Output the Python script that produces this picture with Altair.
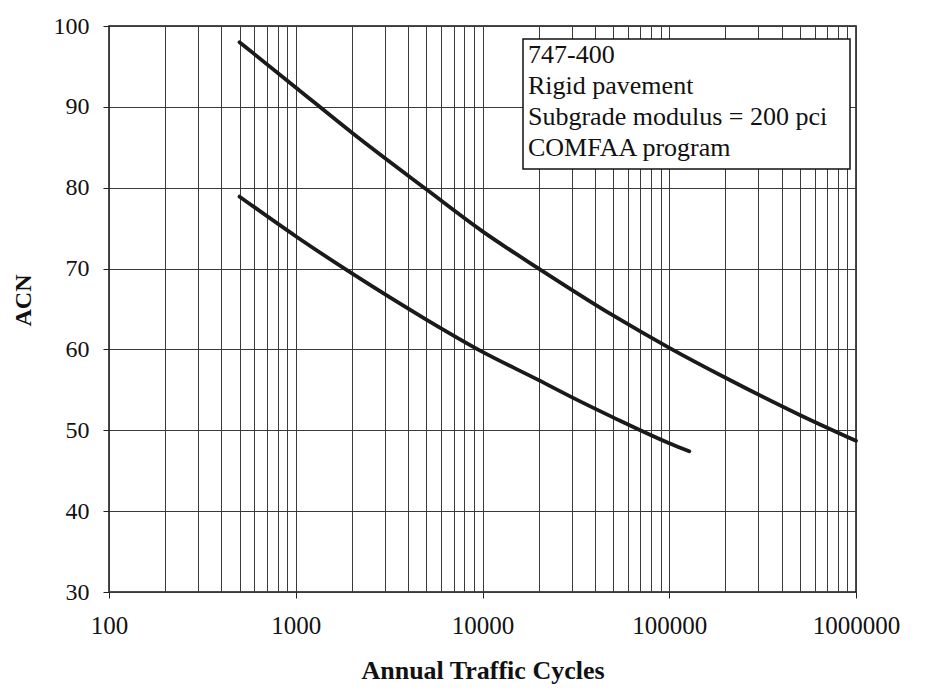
import altair as alt
import pandas as pd

# ---- data ----
upper_x = [500, 1000, 2000, 5000, 10000, 20000, 50000, 100000, 200000, 500000, 1000000]
upper_y = [98.0, 92.4, 86.8, 79.8, 74.6, 70.0, 64.2, 60.2, 56.5, 51.9, 48.7]

lower_x = [500, 1000, 2000, 5000, 10000, 20000, 30000, 50000, 100000, 128000]
lower_y = [78.9, 74.0, 69.4, 63.7, 59.7, 56.2, 54.1, 51.6, 48.4, 47.4]

x_decades = [100, 1000, 10000, 100000, 1000000]
x_grid = [m * d for d in [100, 1000, 10000, 100000] for m in range(1, 10)] + [1000000]
y_ticks = [30, 40, 50, 60, 70, 80, 90, 100]

box_lines = ["747-400", "Rigid pavement", "Subgrade modulus = 200 pci", "COMFAA program"]

df = pd.concat([
    pd.DataFrame({"cycles": upper_x, "acn": upper_y, "series": "upper"}),
    pd.DataFrame({"cycles": lower_x, "acn": lower_y, "series": "lower"}),
])

FONT = "Liberation Serif"
dec_list = "[" + ",".join(str(v) for v in x_decades) + "]"
is_decade = f"indexof({dec_list}, datum.value) >= 0"

x_enc = alt.X(
    "cycles:Q",
    scale=alt.Scale(type="log", domain=[100, 1000000], nice=False),
    axis=alt.Axis(
        values=x_grid,
        format="d",
        labelExpr=f"{is_decade} ? datum.label : ''",
        labelOverlap=False,
        labelFlush=False,
        labelFont=FONT,
        labelFontSize=25,
        labelColor="#111",
        labelPadding=15,
        tickSize=6,
        tickColor="#222",
        tickOpacity={"condition": {"test": is_decade, "value": 1}, "value": 0},
        grid=True,
        gridColor="#3a3a3a",
        gridWidth=1,
        gridOpacity=1,
        domain=False,
        title="Annual Traffic Cycles",
        titleFont=FONT,
        titleFontSize=26,
        titleFontWeight="bold",
        titleColor="#111",
        titleBaseline="alphabetic",
        titleY=86,
    ),
)

y_enc = alt.Y(
    "acn:Q",
    scale=alt.Scale(domain=[30, 100], nice=False, zero=False),
    axis=alt.Axis(
        values=y_ticks,
        labelFont=FONT,
        labelFontSize=24,
        labelColor="#111",
        labelPadding=14,
        labelFlush=False,
        tickSize=6,
        tickColor="#222",
        grid=True,
        gridColor="#3a3a3a",
        gridWidth=1,
        gridOpacity=1,
        domain=False,
        title="ACN",
        titleFont=FONT,
        titleFontSize=24,
        titleFontWeight="bold",
        titleColor="#111",
        titleAngle=270,
        titleAlign="center",
        titleBaseline="middle",
        titleX=-86,
        titleY=274,
    ),
)

lines = alt.Chart(df).mark_line(
    color="#1a1a1a", strokeWidth=3.8, interpolate="monotone", strokeCap="round"
).encode(x=x_enc, y=y_enc, detail="series:N")

one = pd.DataFrame({"k": [0]})
box = alt.Chart(one).mark_rect(
    fill="white", stroke="#111", strokeWidth=1.5
).encode(x=alt.value(414), x2=alt.value(741), y=alt.value(13), y2=alt.value(143))

box_text = alt.Chart(one).mark_text(
    align="left", baseline="alphabetic", font=FONT, fontSize=26,
    lineHeight=31, color="#111"
).encode(x=alt.value(419), y=alt.value(37), text=alt.value(box_lines))

chart = alt.layer(lines, box, box_text).properties(
    width=747,
    height=566,
    autosize=alt.AutoSizeParams(type="none"),
    padding={"left": 101, "top": 18, "right": 62, "bottom": 94},
    background="white",
).configure_view(stroke="#111", strokeWidth=1.5)

chart.save("out.html", embed_options={"renderer": "svg", "actions": False})
